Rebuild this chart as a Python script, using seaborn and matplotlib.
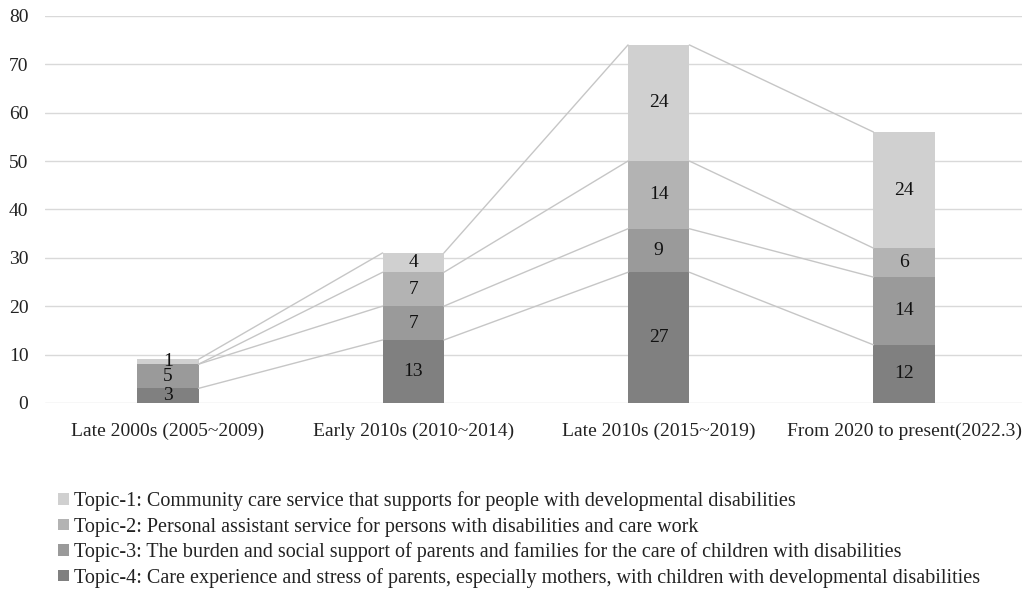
import numpy as np
import pandas as pd
import matplotlib
matplotlib.use("Agg")
import matplotlib.pyplot as plt
from matplotlib.patches import Patch
import seaborn as sns

# --- data ---
periods = ["Late 2000s (2005~2009)", "Early 2010s (2010~2014)",
           "Late 2010s (2015~2019)", "From 2020 to present(2022.3)"]
topic4 = [3, 13, 27, 12]
topic3 = [5, 7, 9, 14]
topic2 = [0, 7, 14, 6]
topic1 = [1, 4, 24, 24]
topic_names = [
    "Topic-1: Community care service that supports for people with developmental disabilities",
    "Topic-2: Personal assistant service for persons with disabilities and care work",
    "Topic-3: The burden and social support of parents and families for the care of children with disabilities",
    "Topic-4: Care experience and stress of parents, especially mothers, with children with developmental disabilities",
]
colors = ["#d0d0d0", "#b3b3b3", "#9a9a9a", "#808080"]

sns.set_theme(style="white")
plt.rcParams["font.family"] = ["Liberation Serif", "DejaVu Serif"]

fig = plt.figure(figsize=(10.26, 5.89), dpi=100)
ax = fig.add_axes([0.044, 0.316, 0.952, 0.657])

# stack from bottom (topic-4) to top (topic-1)
stack = [(topic4, colors[3]), (topic3, colors[2]), (topic2, colors[1]), (topic1, colors[0])]
bar_w = 0.25
bottom = np.zeros(len(periods))
tops = []
for vals, col in stack:
    df = pd.DataFrame({"period": periods, "n": vals})
    sns.barplot(data=df, x="period", y="n", bottom=bottom, color=col,
                width=bar_w, ax=ax, saturation=1, linewidth=0, errorbar=None)
    cont = ax.containers[-1]
    labels = [str(v) if v > 0 else "" for v in vals]
    ax.bar_label(cont, labels=labels, label_type="center", fontsize=14, color="#111111")
    bottom = bottom + np.array(vals)
    tops.append(bottom.copy())

# series lines between bars
xs = np.arange(len(periods))
for t in tops:
    for i in range(len(periods) - 1):
        ax.plot([xs[i] + bar_w / 2, xs[i + 1] - bar_w / 2], [t[i], t[i + 1]],
                color="#c6c6c6", lw=1, zorder=1)

ax.set_xlim(-0.5, 3.48)
ax.set_ylim(0, 80)
ax.set_yticks(range(0, 81, 10))
ax.yaxis.grid(True, color="#d9d9d9", lw=1)
ax.set_axisbelow(True)
for s in ax.spines.values():
    s.set_visible(False)
ax.set_xlabel("")
ax.set_ylabel("")
ax.tick_params(axis="both", length=0, labelsize=14, colors="#222222")
ax.tick_params(axis="x", pad=14)
ax.tick_params(axis="y", pad=12)

handles = [Patch(facecolor=c, edgecolor="none") for c in colors]
fig.legend(handles, topic_names, loc="upper left", bbox_to_anchor=(0.057, 0.166),
           frameon=False, fontsize=14.5, handlelength=0.5, handleheight=0.5,
           handletextpad=0.25, labelspacing=0.28, borderaxespad=0, borderpad=0,
           labelcolor="#222222")

fig.savefig("out.png", dpi=100)
